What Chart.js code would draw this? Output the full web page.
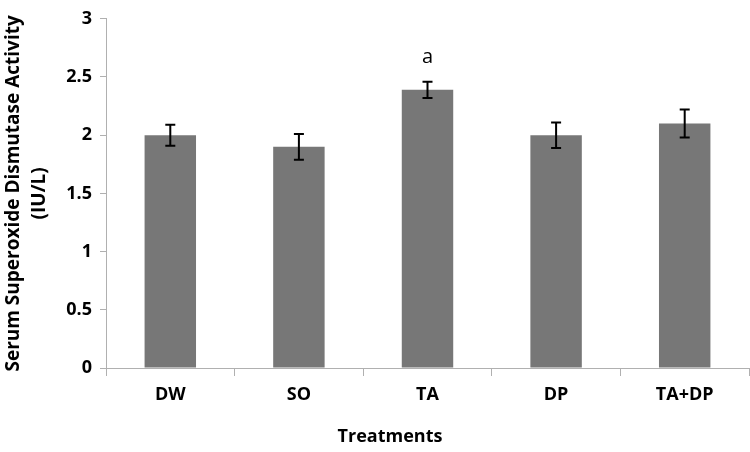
<!DOCTYPE html>
<html>
<head>
<meta charset="utf-8">
<script src="https://cdn.jsdelivr.net/npm/chart.js@4.4.1/dist/chart.umd.min.js"></script>
<style>
  html, body { margin: 0; padding: 0; background: #fff; }
  #wrap { width: 750px; height: 452px; }
</style>
</head>
<body>
<div id="wrap"><canvas id="sodChart" width="750" height="452"></canvas></div>
<script>
// data
const categories = ["DW", "SO", "TA", "DP", "TA+DP"];
const meanValues = [2.0, 1.9, 2.39, 2.0, 2.1];
const errValues = [0.09, 0.11, 0.07, 0.11, 0.12];
const sigLetters = ["", "", "a", "", ""];

const FONT = "'Open Sans', sans-serif";

// ---- error bars + significance letters
const errorBarPlugin = {
  id: "errorBars",
  afterDatasetsDraw: function (chart) {
    const ctx = chart.ctx;
    const meta = chart.getDatasetMeta(0);
    const yScale = chart.scales.y;
    ctx.save();
    ctx.strokeStyle = "#000";
    ctx.lineWidth = 2;
    meta.data.forEach(function (bar, i) {
      const x = bar.x;
      const yTop = yScale.getPixelForValue(meanValues[i] + errValues[i]);
      const yBot = yScale.getPixelForValue(meanValues[i] - errValues[i]);
      ctx.beginPath();
      ctx.moveTo(x, yTop); ctx.lineTo(x, yBot);
      ctx.moveTo(x - 5, yTop); ctx.lineTo(x + 5, yTop);
      ctx.moveTo(x - 5, yBot); ctx.lineTo(x + 5, yBot);
      ctx.stroke();
      if (sigLetters[i]) {
        ctx.fillStyle = "#000";
        ctx.font = "20px " + FONT;
        ctx.textAlign = "center";
        ctx.textBaseline = "middle";
        ctx.fillText(sigLetters[i], x, yTop - 24);
      }
    });
    ctx.restore();
  }
};

// ---- x axis title (sits a bit left of plot centre, like the original)
const xTitlePlugin = {
  id: "xTitle",
  afterDraw: function (chart) {
    const ctx = chart.ctx;
    ctx.save();
    ctx.fillStyle = "#000";
    ctx.font = "bold 18px " + FONT;
    ctx.textAlign = "center";
    ctx.textBaseline = "middle";
    ctx.fillText("Treatments", 390, 437);
    ctx.restore();
  }
};

new Chart(document.getElementById("sodChart"), {
  type: "bar",
  data: {
    labels: categories,
    datasets: [{
      data: meanValues,
      backgroundColor: "#777777",
      borderWidth: 0,
      barPercentage: 0.8,
      categoryPercentage: 0.5
    }]
  },
  options: {
    responsive: false,
    animation: false,
    layout: { padding: { top: 12, right: 1, left: 0, bottom: 0 } },
    plugins: {
      legend: { display: false },
      tooltip: { enabled: false }
    },
    scales: {
      x: {
        grid: {
          display: true,
          drawOnChartArea: false,
          drawTicks: true,
          tickLength: 8,
          color: "#b0b0b0"
        },
        border: { color: "#b0b0b0", width: 1 },
        ticks: {
          color: "#000",
          font: { family: FONT, size: 18, weight: "bold" },
          padding: 8
        },
        afterFit: function (scale) { scale.height = 84; }
      },
      y: {
        min: 0,
        max: 3,
        ticks: {
          stepSize: 0.5,
          color: "#000",
          font: { family: FONT, size: 18, weight: "bold" },
          padding: 8,
          callback: function (v) { return String(Number(v)); }
        },
        grid: {
          display: true,
          drawOnChartArea: false,
          drawTicks: true,
          tickLength: 6,
          color: "#b0b0b0"
        },
        border: { color: "#b0b0b0", width: 1 },
        title: {
          display: true,
          text: ["Serum Superoxide Dismutase Activity", "(IU/L)"],
          color: "#000",
          font: { family: FONT, size: 19, weight: "bold", lineHeight: 1.4 },
          padding: { top: 0, bottom: 0 }
        },
        afterFit: function (scale) { scale.width = 106; }
      }
    }
  },
  plugins: [errorBarPlugin, xTitlePlugin]
});
</script>
</body>
</html>
